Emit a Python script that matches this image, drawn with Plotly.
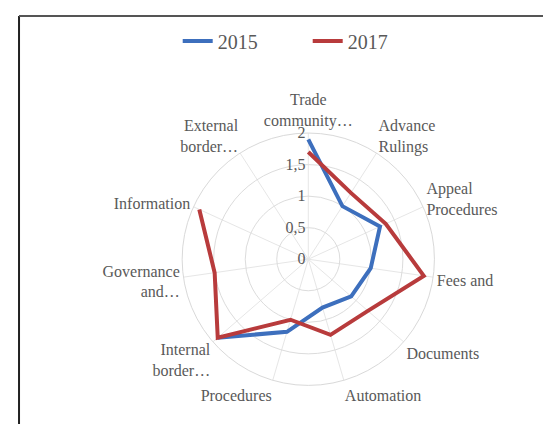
import plotly.graph_objects as go

categories = ["Trade<br>community…", "Advance<br>Rulings", "Appeal<br>Procedures", "Fees and",
              "Documents", "Automation", "Procedures", "Internal<br>border…",
              "Governance<br>and…", "Information", "External<br>border…"]
values_2015 = [1.9, 1.0, 1.25, 1.0, 0.9, 0.8, 1.2, 1.9, None, None, None]
values_2017 = [1.7, 1.25, 1.35, 1.85, 1.25, 1.25, 1.0, 1.9, 1.5, 1.9, None]
tick_vals = [0, 0.5, 1, 1.5, 2]
tick_text = ["0", "0,5", "1", "1,5", "2"]

font_family = "Liberation Serif, Times New Roman, serif"
text_color = "#595959"

fig = go.Figure()
fig.add_trace(go.Scatterpolar(r=values_2015, theta=categories, mode="lines", name="2015",
                              line=dict(color="#3d6fbd", width=4), connectgaps=False))
fig.add_trace(go.Scatterpolar(r=values_2017, theta=categories, mode="lines", name="2017",
                              line=dict(color="#b83b3c", width=4), connectgaps=False))

fig.update_layout(
    width=551, height=424,
    margin=dict(l=0, r=0, t=0, b=0),
    paper_bgcolor="white",
    font=dict(family=font_family, color=text_color, size=16),
    showlegend=True,
    legend=dict(orientation="h", x=0.308, xanchor="left", y=0.922, yanchor="middle",
                font=dict(size=20, color=text_color), entrywidth=85, entrywidthmode="pixels"),
    polar=dict(
        domain=dict(x=[0.30, 0.79], y=[0.11, 0.705]),
        bgcolor="white",
        angularaxis=dict(direction="clockwise", rotation=90, showline=True,
                         linecolor="#d9d9d9", gridcolor="#e6e6e6", ticks="",
                         tickfont=dict(size=16, color=text_color, family=font_family)),
        radialaxis=dict(range=[0, 2], tickvals=tick_vals, ticktext=tick_text,
                        angle=90, side="counterclockwise", showline=False,
                        gridcolor="#dcdcdc", ticks="", tickangle=90,
                        tickfont=dict(size=16, color=text_color, family=font_family)),
    ),
    shapes=[
        dict(type="line", xref="paper", yref="paper", x0=0.02, x1=0.02, y0=0, y1=0.981,
             line=dict(color="#222222", width=2)),
        dict(type="line", xref="paper", yref="paper", x0=0.02, x1=1.0, y0=0.981, y1=0.981,
             line=dict(color="#555555", width=2)),
    ],
)

fig.write_html("out.html")
